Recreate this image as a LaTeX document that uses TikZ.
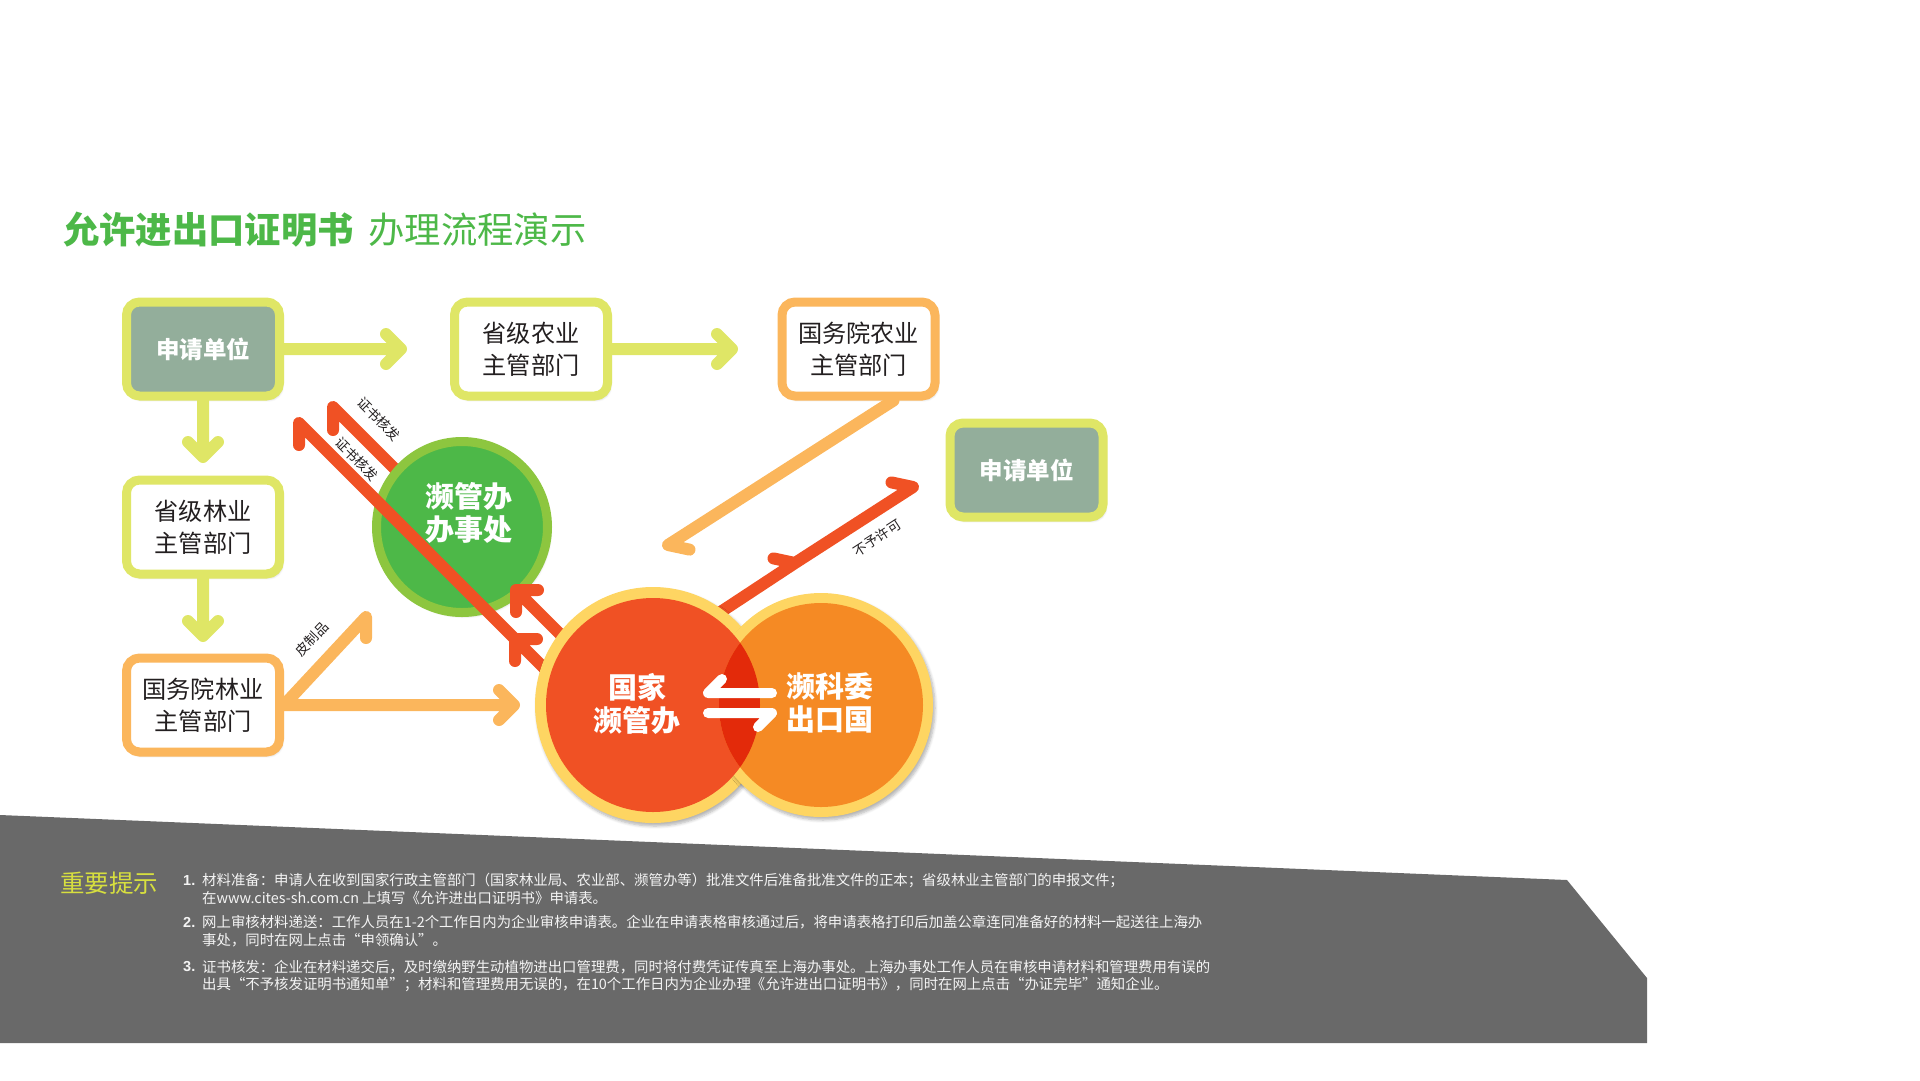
\documentclass[tikz,border=0pt]{standalone}
\usepackage{fontspec}
\setmainfont{Noto Sans CJK SC}
\newfontfamily\numf{Liberation Sans}
\usetikzlibrary{calc,shadows.blur}
\definecolor{yg}{HTML}{DFE666}
\definecolor{sage}{HTML}{93AE9B}
\definecolor{lor}{HTML}{FBB65C}
\definecolor{rd}{HTML}{F05124}
\definecolor{org}{HTML}{F58A24}
\definecolor{ylw}{HTML}{FED562}
\definecolor{drd}{HTML}{E32A0A}
\definecolor{lgr}{HTML}{8DC63F}
\definecolor{dgr}{HTML}{4DB848}
\definecolor{band}{HTML}{696969}
\definecolor{tipc}{HTML}{D7DF3F}
\definecolor{ink}{HTML}{231F20}
\definecolor{note}{HTML}{F4F4F4}
\begin{document}
\begin{tikzpicture}[x=1pt,y=-1pt,
  shd/.style={blur shadow={shadow xshift=2pt,shadow yshift=-3pt,shadow blur radius=3pt,shadow blur steps=6,shadow opacity=30}},
  box/.style={shd,rounded corners=13pt,line width=9pt,minimum width=153pt,minimum height=94pt,inner sep=0pt,align=center,font=\fontsize{24.2}{32}\selectfont,text=ink,fill=white},
  boxg/.style={box,fill=sage,text=white,font=\bfseries\fontsize{23.5}{32}\selectfont},
  arw/.style={line width=12pt,line cap=round,line join=round},
  wharp/.style={line width=10pt,line cap=round,line join=round,white},
  ctext/.style={text=white,align=center,inner sep=0pt,font=\bfseries\fontsize{29}{32.5}\selectfont},
  lbl/.style={text=ink,inner sep=0pt,font=\fontsize{13.5}{15}\selectfont},
  notel/.style={anchor=west,inner sep=0pt,text=note,font=\fontsize{14.4}{17}\selectfont},
  numl/.style={anchor=west,inner sep=0pt,text=note,font=\numf\bfseries\fontsize{14.5}{17}\selectfont}]
\useasboundingbox (0,0) rectangle (1920,1080);
% bottom band
\fill[band] (0,815) -- (1567,880) -- (1647,978) -- (1647,1043) -- (0,1043) -- cycle;
% title
\node[anchor=west,inner sep=0pt,text=dgr,font=\fontsize{36.3}{40}\selectfont] (title) at (63,230) {\textbf{允许进出口证明书}\hspace{15pt}办理流程演示};
% boxes
\node[boxg,draw=yg] (A1) at (203,349) {申请单位};
\node[box,draw=yg] (B1) at (531,349) {省级农业\\主管部门};
\node[box,draw=lor] (C1) at (858.5,349) {国务院农业\\主管部门};
\node[boxg,draw=yg] (D1) at (1026.5,470) {申请单位};
\node[box,draw=yg] (A2) at (203,527) {省级林业\\主管部门};
\node[box,draw=lor] (A3) at (203,705) {国务院林业\\主管部门};
% yellow arrows
\coordinate (t1) at (401,349);
\coordinate (t2) at (732,349);
\coordinate (t3) at (203,457);
\coordinate (t4) at (203,636);
\draw[arw,yg] (A1.east) -- (t1) -- ++(-15,-15) (t1) -- ++(-15,15);
\draw[arw,yg] (B1.east) -- (t2) -- ++(-15,-15) (t2) -- ++(-15,15);
\draw[arw,yg] (A1.south) -- (t3) -- ++(-15,-15) (t3) -- ++(15,-15);
\draw[arw,yg] (A2.south) -- (t4) -- ++(-15,-15) (t4) -- ++(15,-15);
% orange arrows
\coordinate (t5) at (514,705);
\coordinate (t6) at (366,617);
\coordinate (t7) at (668,545);
\draw[arw,lor] (A3.east) -- (t5) -- ++(-15,-15) (t5) -- ++(-15,15);
\draw[arw,lor] (A3.east) -- (t6) -- ++(0,21);
\draw[arw,lor] ($(C1.south)+(35,0)$) -- (t7) -- ++(21.5,4.6);
\node[lbl,rotate=46] (L3) at (312,639) {皮制品};
% red short line (hidden part behind green circle)
\coordinate (r1) at (333,407);
\coordinate (rA) at (516,590);
\coordinate (r1s) at (566,640);
\draw[arw,rd] (rA) -- (r1) -- ++(0,23);
% green circle
\node[shd,circle,fill=dgr,draw=lgr,line width=9pt,minimum size=171pt,inner sep=0pt] (GC) at (462,527) {};
\node[ctext] (GT) at (469,513) {濒管办\\办事处};
% red long line
\coordinate (r2) at (299,423);
\coordinate (rB) at (515,639);
\coordinate (r2s) at (550,674);
\draw[arw,rd] (r2s) -- (rB) -- ++(0,22) (rB) -- ++(22,0);
\draw[arw,rd] (rB) -- (r2) -- ++(0,22);
\draw[arw,rd] (r1s) -- (rA) -- ++(0,22) (rA) -- ++(22,0);
\node[lbl,rotate=-45] (L1) at (379,419) {证书核发};
\node[lbl,rotate=-45] (L2) at (357,459) {证书核发};
% red line to applicant
\coordinate (r3s) at (716,615);
\coordinate (rC) at (795,563);
\coordinate (r3) at (913,487);
\draw[arw,rd] (r3s) -- (rC) -- ++(-21.5,-4.6) (rC) -- (r3) -- ++(-21.5,-4.6);
\node[lbl,rotate=33] (L4) at (877,538) {不予许可};
% big circles
\node[shd,circle,fill=ylw,minimum size=236pt,inner sep=0pt] (RCo) at (653,705) {};
\node[shd,circle,fill=ylw,minimum size=224pt,inner sep=0pt] (OCo) at (821,705) {};
\node[circle,fill=rd,minimum size=214pt,inner sep=0pt] (RC) at (653,705) {};
\node[circle,fill=org,minimum size=204pt,inner sep=0pt] (OC) at (821,705) {};
\begin{scope}
\clip (653,705) circle (107);
\fill[drd] (821,705) circle (102);
\end{scope}
\node[ctext] (RT) at (637,704) {国家\\濒管办};
\node[ctext] (OT) at (830,703) {濒科委\\出口国};
% white harpoons
\coordinate (h1a) at (772,693);
\coordinate (h1b) at (708,693);
\coordinate (h2a) at (708,713);
\coordinate (h2b) at (772,713);
\draw[wharp] (h1a) -- (h1b) -- ++(14,-14);
\draw[wharp] (h2a) -- (h2b) -- ++(-14,14);
% notes
\node[anchor=west,inner sep=0pt,text=tipc,font=\fontsize{24.5}{28}\selectfont] (NT) at (60,883) {重要提示};
\node[numl] (n1) at (183,880) {1.};
\node[notel] (l1a) at (202,880) {材料准备：申请人在收到国家行政主管部门（国家林业局、农业部、濒管办等）批准文件后准备批准文件的正本；省级林业主管部门的申报文件；};
\node[notel] (l1b) at (202,898) {在www.cites-sh.com.cn 上填写《允许进出口证明书》申请表。};
\node[numl] (n2) at (183,922) {2.};
\node[notel] (l2a) at (202,922) {网上审核材料递送：工作人员在1-2个工作日内为企业审核申请表。企业在申请表格审核通过后，将申请表格打印后加盖公章连同准备好的材料一起送往上海办};
\node[notel] (l2b) at (202,940) {事处，同时在网上点击“申领确认”。};
\node[numl] (n3) at (183,967) {3.};
\node[notel] (l3a) at (202,967) {证书核发：企业在材料递交后，及时缴纳野生动植物进出口管理费，同时将付费凭证传真至上海办事处。上海办事处工作人员在审核申请材料和管理费用有误的};
\node[notel] (l3b) at (202,985) {出具“不予核发证明书通知单”；材料和管理费用无误的，在10个工作日内为企业办理《允许进出口证明书》，同时在网上点击“办证完毕”通知企业。};
\end{tikzpicture}
\end{document}
